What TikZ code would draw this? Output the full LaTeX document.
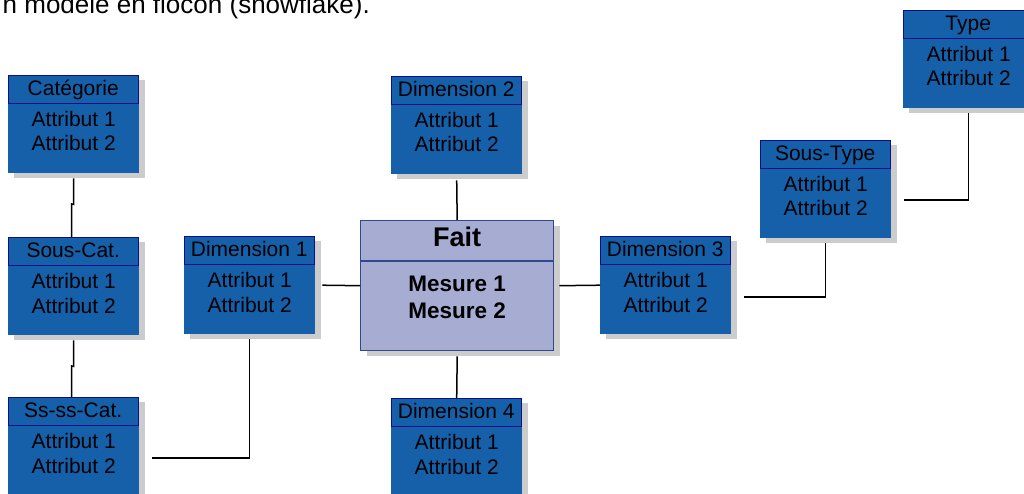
\documentclass[tikz,border=0pt]{standalone}
\usepackage{fontspec}
\setmainfont{Liberation Sans}
\usetikzlibrary{calc,shadows}

\definecolor{boxblue}{RGB}{22,96,170}
\definecolor{headnavy}{RGB}{8,16,140}
\definecolor{factfill}{RGB}{166,172,210}
\definecolor{factline}{RGB}{46,72,148}
\definecolor{shadowgrey}{RGB}{204,204,204}

\tikzset{
  boxshadow/.style={general shadow={fill=shadowgrey, shadow xshift=6pt, shadow yshift=-5pt}},
  entitybody/.style={rectangle, fill=boxblue, inner sep=0pt, minimum width=131pt,
    minimum height=98pt, anchor=north west, boxshadow},
  entityhead/.style={rectangle, draw=headnavy, line width=1.2pt, fill=boxblue,
    minimum width=130pt, inner xsep=0pt, inner ysep=4pt, text height=16pt,
    text depth=4pt, anchor=north, font=\fontsize{21}{24}\selectfont},
  attr/.style={anchor=base, inner sep=0pt, font=\fontsize{21}{24}\selectfont},
  factbox/.style={rectangle, draw=factline, line width=1.4pt, fill=factfill,
    inner sep=0pt, minimum width=193pt, minimum height=130pt, anchor=north west, boxshadow},
  facttext/.style={anchor=base, inner sep=0pt, font=\bfseries\fontsize{22.5}{26}\selectfont},
  link/.style={draw=black, line width=1.5pt},
}

% one dimension table: name, left, top, title
\newcommand\entite[4]{%
  \node[entitybody] (#1) at (#2,#3) {};
  \node[entityhead] (#1-titre) at ($(#1.north)+(-0.5,0)$) {#4};
  \node[attr] (#1-a1) at ($(#1.north)+(0,51.5)$) {Attribut 1};
  \node[attr] (#1-a2) at ($(#1.north)+(0,76)$) {Attribut 2};
}

\begin{document}
\begin{tikzpicture}[x=1pt,y=-1pt]
  \useasboundingbox (0,0) rectangle (1024,494);
  \clip (0,0) rectangle (1024,494);

  % caption line
  \node[anchor=base east, inner sep=0pt, font=\fontsize{26}{30}\selectfont] (legende)
    at (370,14) {n modèle en flocon (snowflake).};

  % fact table
  \node[factbox] (fait) at (360,220) {};
  \draw[factline, line width=1.4pt] ($(fait.north west)+(0,41)$) -- ($(fait.north east)+(0,41)$);
  \node[anchor=base, inner sep=0pt, font=\bfseries\fontsize{27}{30}\selectfont] (fait-titre)
    at ($(fait.north)+(0,26)$) {Fait};
  \node[facttext] (fait-m1) at ($(fait.north)+(0,71)$) {Mesure 1};
  \node[facttext] (fait-m2) at ($(fait.north)+(0,98)$) {Mesure 2};

  % dimension tables
  \entite{cat}{8}{75}{Catégorie}
  \entite{souscat}{8}{237}{Sous-Cat.}
  \entite{ssscat}{8}{397}{Ss-ss-Cat.}
  \entite{d1}{184}{236}{Dimension 1}
  \entite{d2}{391}{76}{Dimension 2}
  \entite{d3}{600}{236}{Dimension 3}
  \entite{d4}{391}{398}{Dimension 4}
  \entite{soustype}{760}{140}{Sous-Type}
  \entite{type}{903}{10}{Type}

  % links between tables
  \draw[link] (fait.west) -- ($(d1.east)+(7,0)$);
  \draw[link] ($(fait.east)+(5,0)$) -- (d3.west);
  \draw[link] (fait.north) -- ($(d2.south)+(0,6)$);
  \draw[link] ($(fait.south)+(0,5)$) -- (d4.north);
  \draw[link] ($(d1.south)+(0,5)$) |- ($(ssscat.east)+(13,12)$);
  \draw[link] ($(cat.south)+(0,5)$) -- ($(cat.south)+(0,31)$)
    -- ($(souscat.north)+(-2,-33)$) -- ($(souscat.north)+(-2,0)$);
  \draw[link] ($(souscat.south)+(0,5)$) -- ($(souscat.south)+(0,31)$)
    -- ($(ssscat.north)+(-2,-31)$) -- ($(ssscat.north)+(-2,0)$);
  \draw[link] ($(soustype.south)+(0,5)$) |- ($(d3.east)+(13,12)$);
  \draw[link] ($(type.south)+(0,5)$) |- ($(soustype.east)+(13,11)$);
\end{tikzpicture}
\end{document}
